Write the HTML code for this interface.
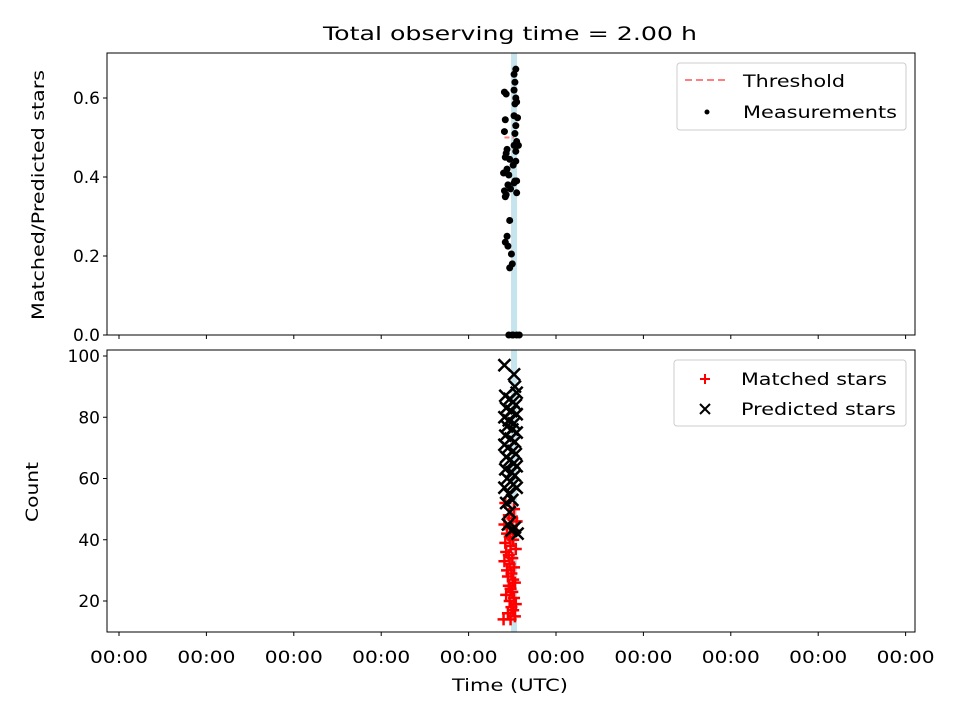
<!DOCTYPE html>
<html><head><meta charset="utf-8"><style>
body{margin:0;background:#fff;}
svg{display:block;font-family:"DejaVu Sans","Liberation Sans",sans-serif;}
</style></head><body>
<svg id="c" width="960" height="720" xmlns="http://www.w3.org/2000/svg"></svg>
<script>
const tickLabels = ["00:00","00:00","00:00","00:00","00:00","00:00","00:00","00:00","00:00","00:00"];
const threshold = 0.5;
const thresholdTime = [4.41, 4.52];
const markerTime = 4.52;
const ratioTimes = [4.54,4.52,4.41,4.53,4.52,4.54,4.43,4.53,4.55,4.52,4.42,4.54,4.53,4.41,4.55,4.44,4.52,4.43,4.54,4.47,4.42,4.51,4.44,4.55,4.46,4.52,4.41,4.55,4.43,4.48,4.42,4.47,4.44,4.42,4.45,4.49,4.50,4.47,4.53,4.54,4.56,4.57,4.40,4.45,4.50,4.55,4.58,4.46,4.51];
const ratioValues = [0.673,0.66,0.615,0.64,0.62,0.60,0.61,0.585,0.59,0.555,0.545,0.53,0.51,0.515,0.49,0.47,0.48,0.46,0.465,0.445,0.45,0.43,0.42,0.39,0.405,0.385,0.365,0.36,0.355,0.37,0.35,0.29,0.25,0.235,0.225,0.205,0.18,0.17,0.39,0.44,0.55,0.48,0.41,0.38,0.0,0.0,0.0,0.0,0.0];
const predTimes = [4.41,4.52,4.53,4.55,4.42,4.47,4.51,4.54,4.43,4.49,4.55,4.41,4.46,4.52,4.44,4.50,4.55,4.42,4.48,4.53,4.41,4.45,4.51,4.54,4.43,4.47,4.52,4.55,4.42,4.49,4.53,4.44,4.48,4.51,4.55,4.41,4.46,4.50,4.43,4.47,4.45,4.49,4.53,4.56];
const predCounts = [97,94,90,88,87,86,85,84,83,82,81,80,79,78,77,76,75,74,73,72,71,70,69,68,67,66,65,64,63,62,61,60,59,58,57,57,55,53,52,49,45,43,44,42];
const matchTimes = [4.42,4.52,4.46,4.50,4.55,4.41,4.49,4.53,4.44,4.47,4.51,4.42,4.48,4.54,4.43,4.46,4.50,4.41,4.47,4.52,4.44,4.49,4.45,4.51,4.53,4.46,4.48,4.50,4.43,4.52,4.47,4.54,4.49,4.51,4.45,4.53,4.48,4.40];
const matchCounts = [52,50,48,47,46,45,44,43,42,41,40,39,38,37,36,35,34,33,32,31,30,29,28,27,26,25,24,23,22,21,20,19,18,17,16,15,14,14];

const svg = document.getElementById('c');
const NS = 'http://www.w3.org/2000/svg';
function mk(tag, attrs, parent){const e=document.createElementNS(NS,tag);for(const k in attrs)e.setAttribute(k,attrs[k]);(parent||svg).appendChild(e);return e;}
const L=107,R=915;
const X = t => 119 + t*87.4;
const Y1 = v => 335 - v*395;
const Y2 = v => 601 - (v-20)*3.0625;
const FS = 17;

let t = mk('text',{x:510,y:40,'text-anchor':'middle','font-size':19,textLength:374,lengthAdjust:'spacingAndGlyphs'});
t.textContent='Total observing time = 2.00 h';



function panel(top,bot,name){
  const g=mk('g',{});
  
  
  const ml=mk('rect',{x:X(markerTime)-3,y:top,width:6,height:bot-top,fill:'#add8e6',opacity:0.7},g);
  
  
  return g;
}
const g1=panel(53,335,'top-panel');
const g2=panel(350,632,'bottom-panel');

const th=mk('line',{x1:X(thresholdTime[0]),x2:X(thresholdTime[1]),y1:Y1(threshold),y2:Y1(threshold),stroke:'#ff7f7f','stroke-width':2,'stroke-dasharray':'5,3'},g1);



ratioTimes.forEach((tm,i)=>{
  const c=mk('circle',{cx:X(tm),cy:Y1(ratioValues[i]),r:3.5,fill:'#000'},g1);
  
  
});
matchTimes.forEach((tm,i)=>{
  const x=X(tm),y=Y2(matchCounts[i]);
  const p=mk('path',{d:`M${x-6},${y}H${x+6}M${x},${y-6}V${y+6}`,stroke:'#f00','stroke-width':2.5},g2);
  
  
});
predTimes.forEach((tm,i)=>{
  const x=X(tm),y=Y2(predCounts[i]);
  const p=mk('path',{d:`M${x-6},${y-6}L${x+6},${y+6}M${x-6},${y+6}L${x+6},${y-6}`,stroke:'#000','stroke-width':2.5},g2);
  
  
});

[[53,335,'top-frame'],[350,632,'bottom-frame']].forEach(([a,b,n])=>{
  const r=mk('rect',{x:L,y:a,width:R-L,height:b-a,fill:'none',stroke:'#000','stroke-width':1});
  
  
});
tickLabels.forEach((lb,i)=>{
  const x=X(i);
  mk('line',{x1:x,x2:x,y1:335,y2:339,stroke:'#000'});
  mk('line',{x1:x,x2:x,y1:632,y2:636,stroke:'#000'});
  const tx=mk('text',{x:x,y:663,'text-anchor':'middle','font-size':FS,textLength:58,lengthAdjust:'spacingAndGlyphs'});
  tx.textContent=lb;
  
  
});
[0,0.2,0.4,0.6].forEach(v=>{
  const y=Y1(v);
  mk('line',{x1:103,x2:107,y1:y,y2:y,stroke:'#000'});
  const tx=mk('text',{x:100,y:y+6,'text-anchor':'end','font-size':FS});
  tx.textContent=v.toFixed(1);
  
  
});
[20,40,60,80,100].forEach(v=>{
  const y=Y2(v);
  mk('line',{x1:103,x2:107,y1:y,y2:y,stroke:'#000'});
  const tx=mk('text',{x:100,y:y+6,'text-anchor':'end','font-size':FS});
  tx.textContent=v;
  
  
});
let a=mk('text',{x:510,y:691,'text-anchor':'middle','font-size':FS,textLength:116,lengthAdjust:'spacingAndGlyphs'});a.textContent='Time (UTC)';


a=mk('text',{x:0,y:0,'text-anchor':'middle','font-size':FS,transform:'translate(44,195) rotate(-90)',textLength:250,lengthAdjust:'spacingAndGlyphs'});a.textContent='Matched/Predicted stars';


a=mk('text',{x:0,y:0,'text-anchor':'middle','font-size':FS,transform:'translate(38,492) rotate(-90)',textLength:60,lengthAdjust:'spacingAndGlyphs'});a.textContent='Count';



function legend(x,y,w,h,name){const r=mk('rect',{x:x,y:y,width:w,height:h,rx:3,fill:'#fff',stroke:'#ccc','fill-opacity':0.8});

}
legend(677,63,229,67,'top-legend');
mk('line',{x1:685,x2:728,y1:80,y2:80,stroke:'#ff7f7f','stroke-width':2,'stroke-dasharray':'7,4'});
let lt=mk('text',{x:743,y:87,'font-size':FS,textLength:102,lengthAdjust:'spacingAndGlyphs'});lt.textContent='Threshold';


mk('circle',{cx:707,cy:112,r:2.5,fill:'#000'});
lt=mk('text',{x:743,y:118,'font-size':FS,textLength:154,lengthAdjust:'spacingAndGlyphs'});lt.textContent='Measurements';



legend(674,360,232,66,'bottom-legend');
mk('path',{d:'M700,379H710M705,374V384',stroke:'#f00','stroke-width':2});
lt=mk('text',{x:741,y:385,'font-size':FS,textLength:146,lengthAdjust:'spacingAndGlyphs'});lt.textContent='Matched stars';


mk('path',{d:'M700,404L710,414M700,414L710,404',stroke:'#000','stroke-width':2});
lt=mk('text',{x:741,y:415,'font-size':FS,textLength:155,lengthAdjust:'spacingAndGlyphs'});lt.textContent='Predicted stars';


</script>
</body></html>
